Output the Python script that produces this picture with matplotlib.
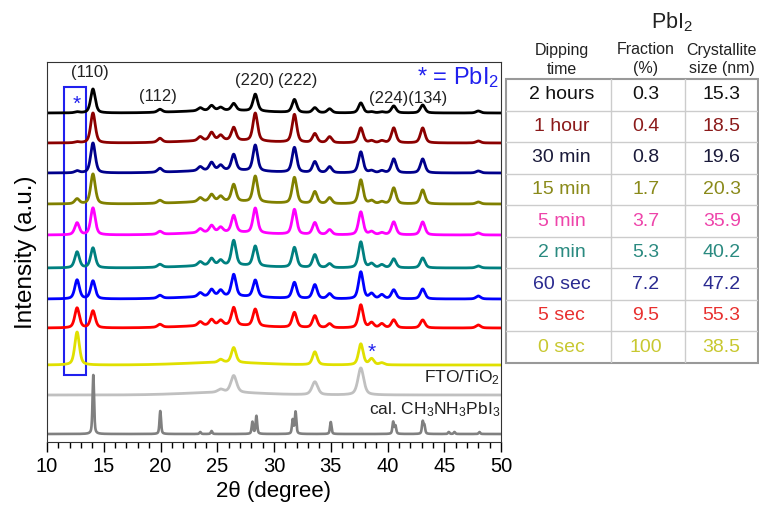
import numpy as np
import matplotlib
matplotlib.use('Agg')
import matplotlib.pyplot as plt
from matplotlib.patches import Rectangle

plt.rcParams['font.family'] = ['Liberation Sans', 'DejaVu Sans']
plt.rcParams['mathtext.fontset'] = 'custom'
plt.rcParams['mathtext.rm'] = 'Liberation Sans'
plt.rcParams['mathtext.it'] = 'Liberation Sans:italic'

# peak positions (2theta) of the measured films
peak_pos = [12.65, 14.05, 19.95, 23.5, 24.5, 25.3, 26.45, 28.35, 31.8, 33.6,
            34.9, 37.65, 38.6, 39.5, 40.55, 43.1, 48.0]

# peak heights per sample, top to bottom
names = ['2 hours', '1 hour', '30 min', '15 min', '5 min', '2 min', '60 sec', '5 sec', '0 sec']
heights = [
    [1, 24, 3, 3, 5, 3, 7, 17, 13, 5, 4, 10, 1, 1, 7, 8, 2],
    [1, 30, 4, 4, 8, 5, 13, 28, 28, 9, 6, 15, 2, 2, 15, 15, 2],
    [2, 30, 4, 4, 8, 5, 16, 26, 25, 11, 6, 21, 2, 2, 14, 14, 2],
    [5, 30, 3, 4, 7, 5, 17, 26, 26, 12, 6, 24, 3, 2, 16, 14, 2],
    [12, 27, 3, 4, 7, 5, 17, 25, 25, 12, 5, 23, 3, 2, 13, 13, 2],
    [16, 20, 3, 4, 7, 5, 25, 20, 20, 13, 4, 26, 4, 3, 9, 10, 2],
    [19, 18, 3, 4, 7, 6, 22, 17, 16, 14, 5, 27, 5, 4, 9, 10, 3],
    [20, 17, 3, 4, 6, 5, 18, 17, 15, 12, 4, 23, 5, 4, 8, 8, 3],
    [33, 0, 0, 0, 0, 3, 15, 0, 0, 13, 0, 21, 6, 2, 0, 0, 0],
]
offsets = [329, 299, 269, 238, 207, 174, 143, 114, 77]
colors = ['#000000', '#8b0000', '#00008b', '#808000', '#ff00ff', '#008080',
          '#0000ff', '#ff0000', '#e0e000']

# substrate
fto_h = [0, 0, 0, 0, 0, 3, 17, 0, 0, 13, 0, 27, 0, 0, 0, 0, 0]
fto_off = 47

# calculated pattern
cal_pos = [14.08, 19.98, 23.5, 24.5, 28.1, 28.45, 31.65, 31.9, 35.0, 40.5, 40.7,
           43.1, 43.25, 45.4, 45.9, 48.1]
cal_h = [59, 23, 2, 3, 12, 18, 14, 22, 12, 12, 8, 12, 8, 2, 2, 2]
cal_off = 8

# table
fraction = ['0.3', '0.4', '0.8', '1.7', '3.7', '5.3', '7.2', '9.5', '100']
cryst = ['15.3', '18.5', '19.6', '20.3', '35.9', '40.2', '47.2', '55.3', '38.5']
tcolors = ['#111111', '#8b1a1a', '#1a1a3a', '#8a8a1a', '#ee44aa', '#2a8a80',
           '#2a2a90', '#e8302f', '#c8c830']


def pv(x, pos, h, w):
    y = np.zeros_like(x)
    for p, a in zip(pos, h):
        if a == 0:
            continue
        g = np.exp(-4 * np.log(2) * (x - p) ** 2 / w ** 2)
        l = 1 / (1 + 4 * (x - p) ** 2 / w ** 2)
        y += a * (0.5 * g + 0.5 * l)
    return y


x = np.linspace(10, 50, 4000)
bump = 2.5 * np.exp(-(x - 25.5) ** 2 / (2 * 3.5 ** 2))

fig = plt.figure(figsize=(7.59, 5.08), dpi=100)
ax = fig.add_axes([47 / 759, 1 - 442 / 508, 454 / 759, 380 / 508])

for h, off, c in zip(heights, offsets, colors):
    ax.plot(x, off + bump + pv(x, peak_pos, h, 0.48), color=c, lw=2.0)
ax.plot(x, fto_off + bump + pv(x, peak_pos, fto_h, 0.6), color='#c0c0c0', lw=2.0)
ax.plot(x, cal_off + pv(x, cal_pos, cal_h, 0.16), color='#808080', lw=1.9)

ax.set_xlim(10, 50)
ax.set_ylim(0, 380)
ax.set_yticks([])
ax.set_xticks(range(10, 51, 5))
ax.set_xticks(range(10, 51, 1), minor=True)
ax.tick_params(axis='x', which='major', direction='out', length=7, width=1, labelsize=14.5)
ax.tick_params(axis='x', which='minor', direction='out', length=4, width=1)
for s in ax.spines.values():
    s.set_color('#333333')
ax.set_xlabel('2θ (degree)', fontsize=16, labelpad=4)
ax.set_ylabel('Intensity (a.u.)', fontsize=17.5, labelpad=7)

ax.add_patch(Rectangle((11.5, 67), 1.95, 288, fill=False, ec='#2020ee', lw=1.5))
ax.text(12.64, 338, '*', color='#2020ee', fontsize=15, ha='center', va='center')
ax.text(38.6, 90, '*', color='#2020ee', fontsize=15, ha='center', va='center')
ax.text(49.8, 364, '* = PbI$_2$', color='#2020ee', fontsize=17, ha='right', va='center')

for lbl, lx, ly in [('(110)', 13.8, 369), ('(112)', 19.8, 346), ('(220)', 28.3, 361),
                    ('(222)', 32.1, 361), ('(224)(134)', 41.8, 344)]:
    ax.text(lx, ly, lbl, fontsize=12, ha='center', va='center', color='#222222')

ax.text(49.9, 64, 'FTO/TiO$_2$', fontsize=12.5, ha='right', va='center', color='#222222')
ax.text(49.9, 32, 'cal. CH$_3$NH$_3$PbI$_3$', fontsize=12.5, ha='right', va='center',
        color='#222222')

# table on the right
tx0, tx1, ty0, ty1 = 506, 758, 79, 363
tab = fig.add_axes([tx0 / 759, 1 - ty1 / 508, (tx1 - tx0) / 759, (ty1 - ty0) / 508])
tab.set_xlim(tx0, tx1)
tab.set_ylim(ty1, ty0)
tab.axis('off')
tab.add_patch(Rectangle((tx0, ty0), tx1 - tx0, ty1 - ty0, fill=False, ec='#999999',
                        lw=1.5, clip_on=False))
nrow = len(names)
rh = (ty1 - ty0) / nrow
for i in range(1, nrow):
    tab.plot([tx0, tx1], [ty0 + i * rh] * 2, color='#cccccc', lw=1)
for cx in [610.7, 685]:
    tab.plot([cx, cx], [ty0, ty1], color='#cccccc', lw=1)
for i in range(nrow):
    yc = ty0 + (i + 0.5) * rh
    tab.text(561.7, yc, names[i], color=tcolors[i], fontsize=14, ha='center', va='center')
    tab.text(645.6, yc, fraction[i], color=tcolors[i], fontsize=14, ha='center', va='center')
    tab.text(721.7, yc, cryst[i], color=tcolors[i], fontsize=14, ha='center', va='center')


def ftext(px, py, s, **kw):
    fig.text(px / 759, 1 - py / 508, s, ha='center', va='center', color='#222222', **kw)


ftext(672, 22, 'PbI$_2$', fontsize=15.5)
ftext(561.7, 50, 'Dipping', fontsize=11.5)
ftext(561.7, 69, 'time', fontsize=11.5)
ftext(645.6, 50, 'Fraction', fontsize=11.5)
ftext(645.6, 69, '(%)', fontsize=11.5)
ftext(721.7, 50, 'Crystallite', fontsize=11.5)
ftext(721.7, 69, 'size (nm)', fontsize=11.5)

fig.savefig('out.png', dpi=100)
